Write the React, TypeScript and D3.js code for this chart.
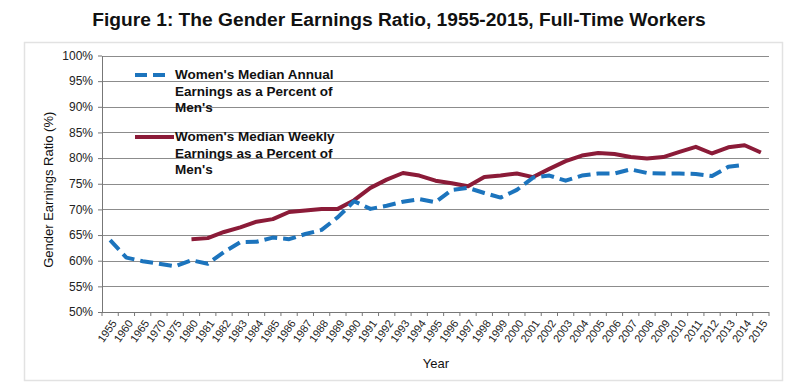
import React, { useRef, useEffect } from 'react';
import * as d3 from 'd3';

const years = [
  '1955', '1960', '1965', '1970', '1975',
  '1980', '1981', '1982', '1983', '1984', '1985', '1986', '1987', '1988', '1989',
  '1990', '1991', '1992', '1993', '1994', '1995', '1996', '1997', '1998', '1999',
  '2000', '2001', '2002', '2003', '2004', '2005', '2006', '2007', '2008', '2009',
  '2010', '2011', '2012', '2013', '2014', '2015',
];

// women's median annual earnings as % of men's (full-time, year-round)
const annual = [
  64.0, 60.6, 59.9, 59.4, 58.9,
  60.1, 59.4, 61.7, 63.6, 63.7, 64.5, 64.2, 65.2, 66.0, 68.5,
  71.6, 70.1, 70.7, 71.5, 72.0, 71.4, 73.8, 74.2, 73.2, 72.3,
  73.8, 76.2, 76.6, 75.6, 76.6, 77.0, 77.0, 77.8, 77.1, 77.0,
  77.0, 76.9, 76.5, 78.3, 78.7, null,
];

// women's median weekly earnings as % of men's
const weekly = [
  null, null, null, null, null,
  64.2, 64.4, 65.6, 66.5, 67.6, 68.1, 69.5, 69.8, 70.1, 70.1,
  71.8, 74.2, 75.8, 77.1, 76.6, 75.6, 75.1, 74.5, 76.3, 76.6,
  77.0, 76.3, 77.9, 79.4, 80.5, 81.0, 80.8, 80.2, 79.9, 80.2,
  81.2, 82.2, 80.9, 82.1, 82.5, 81.1,
];

const yTicks = [50, 55, 60, 65, 70, 75, 80, 85, 90, 95, 100];

const legendAnnual = ["Women's Median Annual", 'Earnings as a Percent of', "Men's"];
const legendWeekly = ["Women's Median Weekly", 'Earnings as a Percent of', "Men's"];

const BLUE = '#1c74bd';
const RED = '#8b1b38';
const FONT = 'Liberation Sans, Arial, sans-serif';

export default function App() {
  const ref = useRef<SVGSVGElement | null>(null);

  useEffect(() => {
    if (!ref.current) return;
    const width = 800;
    const height = 387;
    const margin = { top: 55.5, right: 31, bottom: 75, left: 102 };

    const svg = d3.select(ref.current);
    svg.selectAll('*').remove();

    // outer frame
    svg.append('rect')
      .attr('x', 24.5).attr('y', 42.5)
      .attr('width', 758).attr('height', 338)
      .attr('fill', 'none')
      .attr('stroke', '#e2e2e2')
      .attr('stroke-width', 1.5);

    svg.append('text')
      .attr('x', 399)
      .attr('y', 26)
      .attr('text-anchor', 'middle')
      .attr('font-family', FONT)
      .attr('font-weight', 700)
      .attr('font-size', '19.2px')
      .attr('fill', '#111')
      .text('Figure 1: The Gender Earnings Ratio, 1955-2015, Full-Time Workers');

    const x = d3.scaleBand<string>()
      .domain(years)
      .range([margin.left, width - margin.right]);
    const y = d3.scaleLinear()
      .domain([50, 100])
      .range([height - margin.bottom, margin.top]);

    const g = svg.append('g');

    // gridlines
    g.selectAll('.grid')
      .data(yTicks.slice(1))
      .enter().append('line')
      .attr('x1', margin.left).attr('x2', width - margin.right)
      .attr('y1', d => Math.round(y(d)) + 0.5).attr('y2', d => Math.round(y(d)) + 0.5)
      .attr('stroke', '#8c8c8c')
      .attr('stroke-width', 1);

    // y axis
    const yAxis = g.append('g')
      .attr('transform', `translate(${margin.left},0)`)
      .call(d3.axisLeft(y).tickValues(yTicks).tickSize(4).tickSizeOuter(0).tickFormat(d => `${d}%`));
    yAxis.select('.domain').attr('stroke', '#777');
    yAxis.selectAll('.tick line').attr('stroke', '#777');
    yAxis.selectAll('text')
      .attr('font-family', FONT)
      .attr('font-size', '12px')
      .attr('fill', '#222')
      .attr('x', -9);

    // x axis: ticks on band boundaries, labels at band centres
    const xAxisY = height - margin.bottom;
    const xg = g.append('g').attr('transform', `translate(0,${xAxisY})`);
    xg.append('line')
      .attr('x1', margin.left).attr('x2', width - margin.right)
      .attr('y1', 0.5).attr('y2', 0.5)
      .attr('stroke', '#777');
    const bounds = years.map(d => x(d) as number).concat([width - margin.right]);
    xg.selectAll('.xt')
      .data(bounds)
      .enter().append('line')
      .attr('x1', d => d).attr('x2', d => d)
      .attr('y1', 0).attr('y2', 4)
      .attr('stroke', '#777');
    xg.selectAll('.xl')
      .data(years)
      .enter().append('text')
      .attr('transform', d => `translate(${(x(d) as number) + x.bandwidth() / 2 + 4},${9}) rotate(-55)`)
      .attr('text-anchor', 'end')
      .attr('dy', '0.35em')
      .attr('font-family', FONT)
      .attr('font-size', '11px')
      .attr('fill', '#222')
      .text(d => d);

    // axis titles
    svg.append('text')
      .attr('transform', `translate(53,${(margin.top + height - margin.bottom) / 2 + 6}) rotate(-90)`)
      .attr('text-anchor', 'middle')
      .attr('font-family', FONT)
      .attr('font-size', '13px')
      .attr('fill', '#111')
      .text('Gender Earnings Ratio (%)');
    svg.append('text')
      .attr('x', 436)
      .attr('y', 368)
      .attr('text-anchor', 'middle')
      .attr('font-family', FONT)
      .attr('font-size', '13px')
      .attr('fill', '#111')
      .text('Year');

    const line = d3.line<number | null>()
      .defined(d => d !== null)
      .x((_, i) => (x(years[i]) as number) + x.bandwidth() / 2)
      .y(d => y(d as number));

    g.append('path')
      .datum(weekly)
      .attr('d', line)
      .attr('fill', 'none')
      .attr('stroke', RED)
      .attr('stroke-width', 4)
      .attr('stroke-linejoin', 'round');

    g.append('path')
      .datum(annual)
      .attr('d', line)
      .attr('fill', 'none')
      .attr('stroke', BLUE)
      .attr('stroke-width', 4)
      .attr('stroke-linejoin', 'round')
      .attr('stroke-dasharray', '13 6');

    // legend
    const leg = svg.append('g');
    leg.append('line')
      .attr('x1', 135).attr('x2', 170)
      .attr('y1', 75).attr('y2', 75)
      .attr('stroke', BLUE).attr('stroke-width', 4)
      .attr('stroke-dasharray', '12 6');
    leg.append('line')
      .attr('x1', 135).attr('x2', 174)
      .attr('y1', 137).attr('y2', 137)
      .attr('stroke', RED).attr('stroke-width', 4);
    const addText = (lines: string[], y0: number) => {
      lines.forEach((t, i) => {
        leg.append('text')
          .attr('x', 175)
          .attr('y', y0 + i * 16.5)
          .attr('font-family', FONT)
          .attr('font-weight', 700)
          .attr('font-size', '13.5px')
          .attr('fill', '#111')
          .text(t);
      });
    };
    addText(legendAnnual, 79);
    addText(legendWeekly, 141);
  }, []);

  return (
    <svg
      ref={ref}
      width={800}
      height={387}
      style={{ position: 'absolute', left: 0, top: 0, background: '#fff' }}
    />
  );
}
